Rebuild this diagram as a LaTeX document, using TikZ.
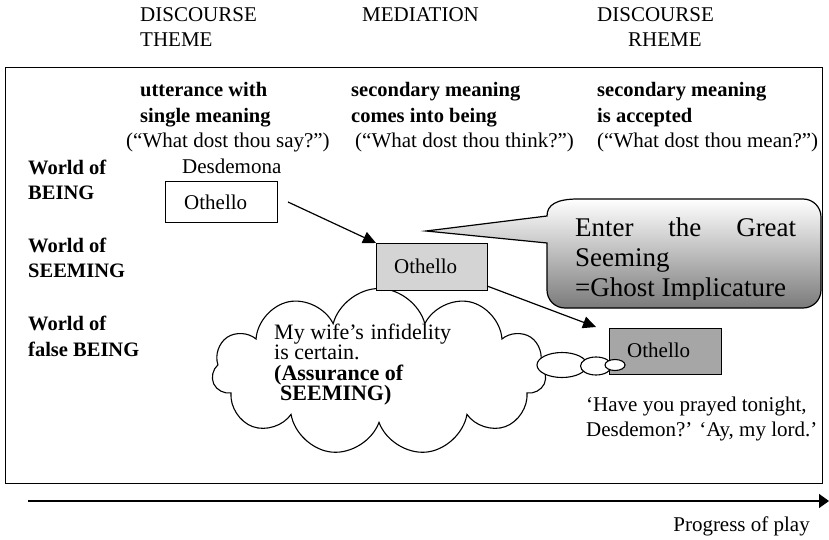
\documentclass[tikz,border=0pt]{standalone}
\usepackage{fontspec}
\setmainfont{Liberation Serif}
\usetikzlibrary{arrows.meta,shapes.symbols,shapes.geometric}
\begin{document}
\begin{tikzpicture}[x=1pt,y=-1pt,
 rtxt/.style={anchor=base west,inner sep=0pt,font=\fontsize{21}{25}\selectfont},
 btxt/.style={anchor=base west,inner sep=0pt,font=\fontsize{20.5}{25}\selectfont\bfseries},
 cltxt/.style={anchor=base west,inner sep=0pt,font=\fontsize{22}{20}\selectfont},
 clbtxt/.style={anchor=base west,inner sep=0pt,font=\fontsize{22}{20}\selectfont\bfseries},
 bigtxt/.style={anchor=base west,inner sep=0pt,font=\fontsize{27}{30}\selectfont},
 obox/.style={draw,line width=1.3pt,anchor=north west,inner sep=0pt},
 arr/.style={line width=1.2pt,-{Triangle[length=13pt,width=12pt]}},
 puff/.style={ellipse,draw,line width=1.1pt,fill=white,inner sep=0pt}]
\useasboundingbox (0,0) rectangle (829,540);

% headers
\node[rtxt] (h1a) at (140,22) {DISCOURSE};
\node[rtxt] (h1b) at (140,47) {THEME};
\node[rtxt] (h2) at (362,22) {MEDIATION};
\node[rtxt] (h3a) at (597,22) {DISCOURSE};
\node[rtxt] (h3b) at (628,47) {RHEME};

% frame
\node[draw,line width=1.4pt,anchor=north west,minimum width=817pt,minimum height=416pt,inner sep=0pt] (frame) at (5,67) {};

% column headings
\node[btxt] (c1a) at (140,97) {utterance with};
\node[btxt] (c1b) at (140,123) {single meaning};
\node[rtxt] (c1c) at (126,148) {(“What dost thou say?”)};
\node[btxt] (c2a) at (351,97) {secondary meaning};
\node[btxt] (c2b) at (351,123) {comes into being};
\node[rtxt] (c2c) at (355,148) {(“What dost thou think?”)};
\node[btxt] (c3a) at (597,97) {secondary meaning};
\node[btxt] (c3b) at (597,123) {is accepted};
\node[rtxt] (c3c) at (597,148) {(“What dost thou mean?”)};

% world labels
\node[btxt] (w1a) at (28,175) {World of};
\node[btxt] (w1b) at (28,200) {BEING};
\node[btxt] (w2a) at (28,252) {World of};
\node[btxt] (w2b) at (28,277) {SEEMING};
\node[btxt] (w3a) at (28,330) {World of};
\node[btxt] (w3b) at (28,356) {false BEING};

% cloud
\node[cloud,draw,line width=1.1pt,fill=white,cloud puffs=11,cloud ignores aspect,
      minimum width=334pt,minimum height=167pt,inner sep=0pt] (cl) at (379,372) {};
\node[cltxt] (cl1) at (274,339) {My wife’s\hspace{1pt} infidelity};
\node[cltxt] (cl2) at (274,359.5) {is certain.};
\node[clbtxt] (cl3) at (274,380) {(Assurance of};
\node[clbtxt] (cl4) at (280,400.5) {SEEMING)};

% boxes
\node[rtxt] (des) at (182,174) {Desdemona};
\node[obox,fill=white,minimum width=112pt,minimum height=41pt] (b1) at (165,181) {};
\node[rtxt] (t1) at (184,209) {Othello};
\node[obox,fill=black!17,minimum width=111pt,minimum height=47pt] (b2) at (376,243) {};
\node[rtxt] (t2) at (394,273) {Othello};
\node[obox,fill=black!35,minimum width=112pt,minimum height=46pt] (b3) at (609,328) {};
\node[rtxt] (t3) at (627,357) {Othello};

% thought puffs
\node[puff,minimum width=50pt,minimum height=25pt] (e1) at (562,365) {};
\node[puff,minimum width=31pt,minimum height=18pt] (e2) at (596,366) {};
\node[puff,minimum width=20pt,minimum height=11pt] (e3) at (615,365) {};

% arrows
\coordinate (a1s) at (288,202);
\coordinate (a2s) at (487,286);
\coordinate (a2e) at (596,327);
\draw[arr] (a1s) -- (b2.north west);
\draw[arr] (a2s) -- (a2e);

% callout
\coordinate (tip) at (426,231);
\draw[line width=1.2pt,top color=white,middle color=black!15,bottom color=black!52]
  (tip) -- (547,216) .. controls (547,205) and (556,199) .. (578,199)
  -- (803,199) .. controls (813,199) and (821,207) .. (821,217)
  -- (821,290) .. controls (821,300) and (813,308) .. (803,308)
  -- (565,308) .. controls (555,308) and (547,300) .. (547,290)
  -- (547,243) -- cycle;
\begin{scope}
\clip (560,205) rectangle (815,299);
\node[bigtxt] (g1) at (575,236) {\makebox[221pt][s]{Enter\hfill the\hfill Great}};
\node[bigtxt] (g2) at (575,266) {Seeming};
\node[bigtxt] (g3) at (575,296) {=Ghost Implicature};
\end{scope}

% quote
\node[rtxt] (q1) at (586,411) {‘Have you prayed tonight,};
\node[rtxt] (q2) at (586,436) {Desdemon?’ ‘Ay, my lord.’};

% progress arrow
\coordinate (p0) at (28,501);
\coordinate (p1) at (829,501);
\draw[line width=1.2pt,-{Triangle[length=10pt,width=14pt]}] (p0) -- (p1);
\node[rtxt,anchor=base east] (prog) at (810,531) {Progress of play};
\end{tikzpicture}
\end{document}
